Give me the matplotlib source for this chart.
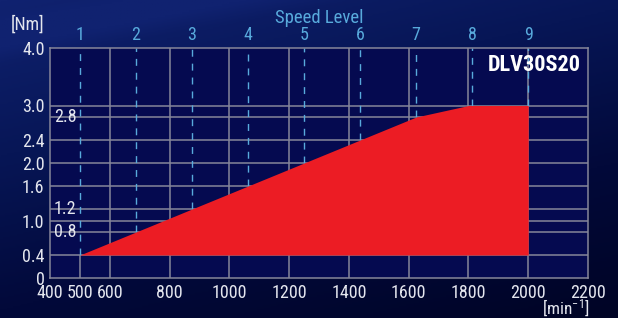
import numpy as np
import matplotlib.pyplot as plt
from matplotlib.colors import LinearSegmentedColormap

# torque curve data
speed = [500, 1625, 1800, 2000]
torque = [0.4, 2.8, 3.0, 3.0]
base_torque = 0.4

level_names = ['1', '2', '3', '4', '5', '6', '7', '8', '9']
level_speed = [500, 687.5, 875, 1062.5, 1250, 1437.5, 1625, 1812.5, 2000]

x_ticks = [400, 500, 600, 800, 1000, 1200, 1400, 1600, 1800, 2000, 2200]
x_grid = [600, 800, 1000, 1200, 1400, 1600, 1800, 2000]
y_ticks_out = [0, 0.4, 1.0, 1.6, 2.0, 2.4, 3.0, 4.0]
y_labels_out = ['0', '0.4', '1.0', '1.6', '2.0', '2.4', '3.0', '4.0']
y_ticks_in = [0.8, 1.2, 2.8]
y_grid = [0.4, 0.8, 1.0, 1.2, 1.6, 2.0, 2.4, 2.8, 3.0]
model = 'DLV30S20'

plt.rcParams['font.family'] = ['Roboto Condensed', 'DejaVu Sans']
plt.rcParams['mathtext.fontset'] = 'custom'
plt.rcParams['mathtext.rm'] = 'Roboto Condensed'
plt.rcParams['mathtext.default'] = 'regular'

txt = '#e4e6ee'
blue = '#58aadc'
grid_c = '#86869a'
red = '#ec1c24'

fig = plt.figure(figsize=(6.18, 3.18), dpi=100)

# background gradient
bg = fig.add_axes([0, 0, 1, 1], zorder=-10)
yy, xx = np.mgrid[0:1:200j, 0:1:400j]
g = 0.75 * yy + 0.35 * xx
band = 0.06 * np.clip(1 - np.abs((yy + 0.35 * xx) - 0.12) / 0.08, 0, 1)
val = np.clip(g + band * -3, 0, 1.2)
cmap = LinearSegmentedColormap.from_list('bg', ['#102270', '#071656', '#02093a', '#000425'])
bg.imshow(val, cmap=cmap, aspect='auto', extent=[0, 1, 0, 1], origin='upper', vmin=0, vmax=1.1)
bg.axis('off')

ax = fig.add_axes([50 / 618, 40 / 318, 538 / 618, 230 / 318])
ax.set_facecolor('#050a50')
ax.set_xlim(400, 2200)
ax.set_ylim(0, 4.0)

for y in y_grid:
    ax.axhline(y, color=grid_c, lw=1.1, zorder=1)
for x in x_grid:
    ax.axvline(x, color=grid_c, lw=1.1, zorder=1)
ax.vlines(speed[0], 0, base_torque, color=grid_c, lw=1.1, zorder=1)

# speed level dashed lines stop at the curve
ymins = np.interp(level_speed, speed, torque)
ax.vlines(level_speed, ymins, 4.0, colors=blue, lw=1.0, linestyles=(0, (5, 5)), zorder=2)

ax.fill_between(speed, base_torque, torque, color=red, lw=0, zorder=3)

for s in ax.spines.values():
    s.set_color(grid_c)
    s.set_linewidth(1.1)
    s.set_zorder(4)

ax.set_xticks(x_ticks)
ax.set_xticklabels([str(v) for v in x_ticks])
ax.set_yticks(y_ticks_out)
ax.set_yticklabels(y_labels_out)
ax.tick_params(length=0, colors=txt, labelsize=13)
ax.tick_params(axis='x', pad=4)
ax.tick_params(axis='y', pad=4)

for y in y_ticks_in:
    ax.text(0.007, y, f'{y:.1f}', transform=ax.get_yaxis_transform(), color=txt,
            fontsize=13, ha='left', va='center', zorder=5)

top = ax.twiny()
top.set_xlim(ax.get_xlim())
top.set_xticks(level_speed)
top.set_xticklabels(level_names)
top.tick_params(length=0, colors=blue, labelsize=13, pad=3)
top.set_xlabel('Speed Level', color=blue, fontsize=13.5, labelpad=2)
for s in top.spines.values():
    s.set_visible(False)

ax.text(0.987, 0.925, model, transform=ax.transAxes, color='white', fontsize=16,
        fontweight='bold', ha='right', va='center', zorder=5)

fig.text(28 / 618, 1 - 25 / 318, '[Nm]', color=txt, fontsize=13, ha='center', va='center')
fig.text(566 / 618, 1 - 308 / 318, '[min$^{-1}$]', color=txt, fontsize=12.5, ha='center', va='center')

fig.savefig('out.png', dpi=100, facecolor=fig.get_facecolor())
